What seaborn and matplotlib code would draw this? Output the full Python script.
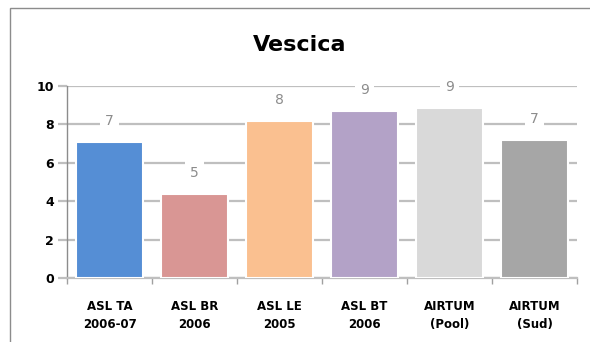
import matplotlib
matplotlib.use("Agg")
import matplotlib.pyplot as plt
import matplotlib.patheffects as pe
from matplotlib.patches import Rectangle
import pandas as pd
import seaborn as sns

# --- Datos ---
categorie = ["ASL TA\n2006-07", "ASL BR\n2006", "ASL LE\n2005",
             "ASL BT\n2006", "AIRTUM\n(Pool)", "AIRTUM\n(Sud)"]
valori = [7.08, 4.37, 8.2, 8.7, 8.84, 7.19]
etichette = ["7", "5", "8", "9", "9", "7"]
colori = ["#558ED5", "#D99694", "#FAC090", "#B3A2C7", "#D9D9D9", "#A6A6A6"]
yticks = [0, 2, 4, 6, 8, 10]

df = pd.DataFrame({"categoria": categorie, "valore": valori})

sns.set_style("white")
plt.rcParams["font.family"] = ["DejaVu Sans"]
plt.rcParams["text.color"] = "black"
plt.rcParams["xtick.color"] = "black"
plt.rcParams["ytick.color"] = "black"

fig = plt.figure(figsize=(5.9, 3.42), dpi=100)
ax = fig.add_axes([67 / 590, 1 - 278 / 342, 510 / 590, 192 / 342])

sns.barplot(data=df, x="categoria", y="valore", hue="categoria",
            palette=colori, saturation=1, legend=False, width=0.78, ax=ax,
            edgecolor="white", linewidth=1.5, zorder=3)
for p in ax.patches:
    p.set_path_effects([pe.SimplePatchShadow(offset=(1, -1), alpha=0.25),
                        pe.Normal()])

# etichette dei valori sopra le barre
for i, (v, t) in enumerate(zip(valori, etichette)):
    ax.annotate(t, (i, v), xytext=(0, 15), textcoords="offset points",
                ha="center", va="center", fontsize=10, color="#8c8c8c",
                bbox=dict(boxstyle="square,pad=0.35", fc="white", ec="none"),
                zorder=6)

ax.set_ylim(0, 10)
ax.set_xlim(-0.5, len(categorie) - 0.5)
ax.set_yticks(yticks)
ax.set_yticklabels([str(y) for y in yticks], fontweight="bold", fontsize=9)
ax.yaxis.grid(True, color="#bfbfbf", linewidth=1.6, zorder=0)
ax.set_axisbelow(True)
ax.tick_params(axis="y", left=True, length=6.5, width=1.6, color="#bfbfbf",
               labelcolor="black", pad=3)
ax.tick_params(axis="x", bottom=False, pad=12, labelcolor="black")
ax.set_xticks(range(len(categorie)))
ax.set_xticklabels(categorie, fontweight="bold", fontsize=8.5, linespacing=1.5)
ax.set_xticks([i - 0.5 for i in range(len(categorie) + 1)], minor=True)
ax.tick_params(axis="x", which="minor", bottom=True, length=4, width=1,
               color="#a0a0a0")
ax.set_xlabel("")
ax.set_ylabel("")

for s in ["top", "right"]:
    ax.spines[s].set_visible(False)
ax.spines["left"].set_color("#8c8c8c")
ax.spines["left"].set_linewidth(1)
ax.spines["bottom"].set_color("#bfbfbf")
ax.spines["bottom"].set_linewidth(1.6)

fig.text(300 / 590, 1 - 45 / 342, "Vescica", ha="center", va="center",
         fontsize=16, fontweight="bold", color="black")

# cornice del grafico
fig.patches.append(Rectangle((10 / 590, -0.1), 1.2, 1 - 8 / 342 + 0.1,
                             transform=fig.transFigure, fill=False,
                             edgecolor="#8c8c8c", linewidth=1))

fig.savefig("out.png", dpi=100)
